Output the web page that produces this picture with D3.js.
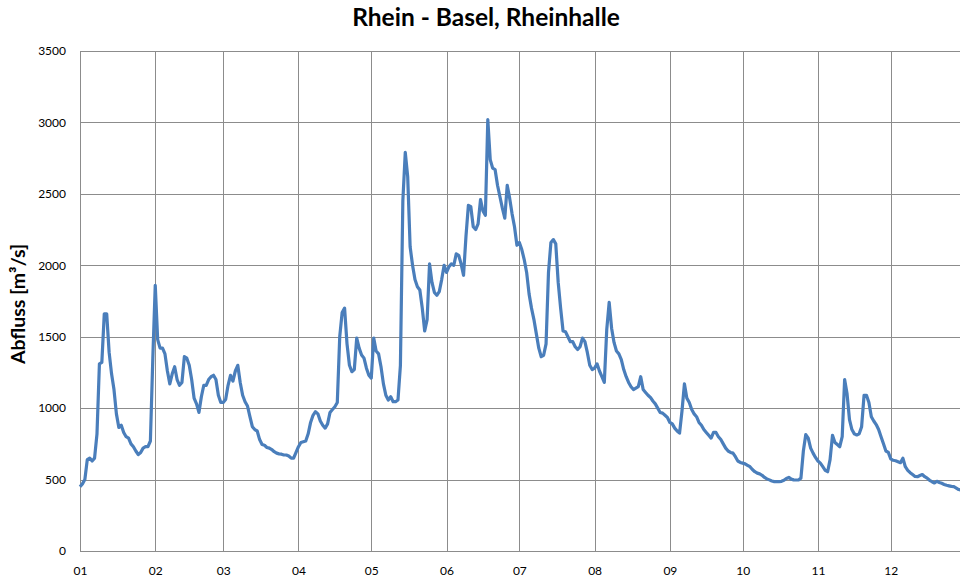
<!DOCTYPE html>
<html lang='de'>
<head>
    <meta charset='UTF-8'>
    <title>Rhein - Basel, Rheinhalle</title>
    <style>
        html, body { margin: 0; padding: 0; background: #fff; overflow: hidden; }
    </style>
</head>
<body>
    <div id='anchor'></div>
    <script src='https://cdnjs.cloudflare.com/ajax/libs/d3/7.8.5/d3.min.js'></script>
    <script>
        // daily discharge in m3/s, one array per month
        const jan = [450, 470, 500, 640, 650, 630, 650, 820, 1310, 1320, 1660, 1660, 1390, 1240, 1130, 960,
            865, 880, 830, 800, 790, 750, 730, 700, 675, 690, 720, 730, 730, 770, 1350];
        const feb = [1860, 1480, 1420, 1420, 1380, 1260, 1170, 1240, 1290, 1200, 1160, 1180, 1360, 1350,
            1300, 1200, 1070, 1030, 970, 1080, 1160, 1160, 1200, 1220, 1230, 1200, 1090, 1040];
        const mar = [1040, 1060, 1160, 1230, 1190, 1260, 1300, 1180, 1090, 1045, 1015, 940, 870, 850, 840,
            780, 745, 740, 725, 720, 710, 695, 685, 680, 678, 672, 672, 665, 650, 650, 690];
        const apr = [730, 760, 765, 770, 820, 900, 950, 975, 960, 910, 880, 860, 890, 970, 990, 1010,
            1040, 1500, 1670, 1700, 1450, 1300, 1255, 1270, 1490, 1420, 1372, 1350, 1280, 1230];
        const may = [1210, 1490, 1400, 1380, 1290, 1170, 1090, 1057, 1080, 1045, 1045, 1057, 1300, 2450,
            2790, 2620, 2130, 2000, 1900, 1850, 1827, 1700, 1540, 1620, 2010, 1880, 1810, 1790, 1815, 1900, 2000];
        const jun = [1950, 1990, 2010, 2000, 2080, 2070, 2010, 1930, 2200, 2420, 2410, 2270, 2250, 2290,
            2460, 2380, 2350, 3020, 2740, 2680, 2670, 2560, 2480, 2400, 2330, 2560, 2470, 2360, 2270, 2140];
        const jul = [2160, 2110, 2040, 1950, 1800, 1700, 1620, 1520, 1420, 1360, 1370, 1450, 1950, 2160,
            2180, 2150, 1880, 1700, 1540, 1535, 1500, 1465, 1465, 1430, 1410, 1430, 1490, 1465, 1390, 1300, 1270];
        const aug = [1280, 1310, 1260, 1220, 1180, 1550, 1740, 1560, 1460, 1400, 1380, 1340, 1270, 1220,
            1180, 1150, 1130, 1140, 1150, 1220, 1130, 1110, 1090, 1075, 1050, 1030, 1000, 970, 965, 950, 935];
        const sep = [900, 890, 860, 840, 825, 980, 1170, 1070, 1040, 990, 960, 940, 900, 880, 850, 830,
            810, 790, 830, 830, 800, 780, 750, 720, 700, 690, 685, 660, 630, 620];
        const oct = [615, 610, 600, 590, 570, 555, 545, 540, 530, 515, 505, 498, 490, 486, 486, 486, 488,
            495, 508, 515, 503, 498, 497, 497, 510, 700, 815, 790, 720, 685, 655];
        const nov = [630, 615, 590, 565, 555, 640, 810, 760, 745, 730, 800, 1200, 1100, 920, 850, 820,
            812, 820, 870, 1090, 1090, 1040, 940, 910, 885, 850, 800, 750, 700, 690];
        const dec = [645, 635, 632, 625, 618, 650, 590, 565, 548, 535, 522, 520, 528, 535, 520, 510, 495,
            485, 476, 488, 480, 474, 466, 460, 456, 452, 450, 440, 430, 425, 420];

        const monthLabels = ['01', '02', '03', '04', '05', '06', '07', '08', '09', '10', '11', '12'];
        const yTicks = [0, 500, 1000, 1500, 2000, 2500, 3000, 3500];
        const year = 2019;

        const flow = [].concat(jan, feb, mar, apr, may, jun, jul, aug, sep, oct, nov, dec)
            .map((v, i) => ({ date: new Date(year, 0, 1 + i), value: v }));

        const width = 960, height = 581;
        const plotLeft = 80, plotTop = 51, plotBottom = 551, plotRight = 966;
        const font = "Lato, 'Open Sans', sans-serif";

        const svg = d3.select('#anchor').append('svg')
            .attr('width', width)
            .attr('height', height)
            .style('display', 'block')
            .attr('font-family', font);

        const x = d3.scaleTime()
            .domain([new Date(year, 0, 1), new Date(year + 1, 0, 1)])
            .range([plotLeft, plotRight]);
        const y = d3.scaleLinear()
            .domain([0, 3500])
            .range([plotBottom, plotTop]);

        // horizontal gridlines + y labels
        const yAxis = svg.append('g')
            .attr('transform', `translate(${plotLeft},0)`)
            .call(d3.axisLeft(y).tickValues(yTicks).tickFormat(d3.format('d'))
                .tickSize(-(plotRight - plotLeft)).tickPadding(14));
        yAxis.select('.domain').remove();
        yAxis.selectAll('.tick line').attr('stroke', '#8c8c8c').attr('shape-rendering', 'crispEdges');
        yAxis.selectAll('.tick text').attr('font-size', 12).attr('fill', '#000').attr('font-family', font);

        // vertical month gridlines + x labels
        const monthStarts = monthLabels.map((m, i) => new Date(year, i, 1));
        const xAxis = svg.append('g')
            .attr('transform', `translate(0,${plotTop})`)
            .call(d3.axisBottom(x).tickValues(monthStarts)
                .tickFormat((d, i) => monthLabels[i])
                .tickSize(plotBottom - plotTop).tickPadding(15));
        xAxis.select('.domain').remove();
        xAxis.selectAll('.tick line').attr('stroke', '#8c8c8c').attr('shape-rendering', 'crispEdges');
        xAxis.selectAll('.tick text').attr('font-size', 12).attr('fill', '#000').attr('font-family', font);

        // data line
        const line = d3.line()
            .x(d => x(d.date))
            .y(d => y(d.value));

        svg.append('path')
            .datum(flow)
            .attr('fill', 'none')
            .attr('stroke', '#4a7ebb')
            .attr('stroke-width', 3.2)
            .attr('stroke-linejoin', 'round')
            .attr('d', line);

        // titles
        svg.append('text')
            .attr('x', 486)
            .attr('y', 26)
            .attr('text-anchor', 'middle')
            .attr('font-size', 24.5)
            .attr('font-weight', 'bold')
            .text('Rhein - Basel, Rheinhalle');

        svg.append('text')
            .attr('transform', `translate(25,${(plotTop + plotBottom) / 2 + 3}) rotate(-90)`)
            .attr('text-anchor', 'middle')
            .attr('font-size', 19.5)
            .attr('font-weight', 'bold')
            .text('Abfluss [m³/s]');
    </script>
</body>
</html>
